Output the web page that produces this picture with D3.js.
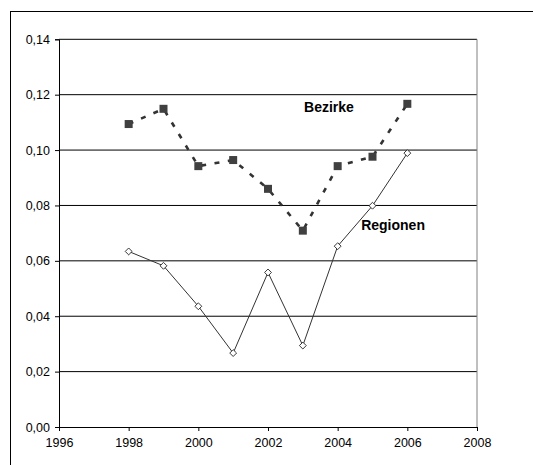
<!DOCTYPE html>
<html><head><meta charset="utf-8">
<script src="https://cdn.jsdelivr.net/npm/d3@7"></script>
<style>body{margin:0;background:#fff}svg{display:block}</style>
</head><body>
<script>
const years = [1998,1999,2000,2001,2002,2003,2004,2005,2006];
const bezirke = [0.1094,0.1149,0.0942,0.0964,0.0860,0.0709,0.0942,0.0976,0.1167];
const regionen = [0.0634,0.0582,0.0436,0.0267,0.0558,0.0294,0.0653,0.0799,0.0989];
const xTicks = [1996,1998,2000,2002,2004,2006,2008];
const yTicks = [0,0.02,0.04,0.06,0.08,0.10,0.12,0.14];
const seriesLabels = [{name:"Bezirke", year:2003.75, value:0.1137},{name:"Regionen", year:2005.59, value:0.0711}];

const W=533,H=465;
const svg=d3.select("body").append("svg").attr("width",W).attr("height",H);
svg.append("rect").attr("x",10.5).attr("y",11.5).attr("width",700).attr("height",700)
  .attr("fill","none").attr("stroke","#000").attr("stroke-width",1);

const L=59,R=477,T=39.3,B=427;
const x=d3.scaleLinear().domain([1996,2008]).range([L,R]);
const y=d3.scaleLinear().domain([0,0.14]).range([B,T]);
const font="Liberation Sans, Arial, sans-serif";

// gridlines
svg.append("g").selectAll("line").data(yTicks.filter(d=>d>0)).join("line")
  .attr("x1",L).attr("x2",R).attr("y1",d=>y(d)).attr("y2",d=>y(d))
  .attr("stroke","#000").attr("stroke-width",1);
// right border
svg.append("line").attr("x1",R).attr("x2",R).attr("y1",T).attr("y2",B).attr("stroke","#808080");

// axes
const fmt=d=>d3.format(".2f")(d).replace(".",",");
const yAxis=svg.append("g").attr("transform",`translate(${L},0)`)
  .call(d3.axisLeft(y).tickValues(yTicks).tickFormat(fmt).tickSize(4).tickPadding(5));
const xAxis=svg.append("g").attr("transform",`translate(0,${B})`)
  .call(d3.axisBottom(x).tickValues(xTicks).tickFormat(d3.format("d")).tickSize(4).tickPadding(7));
[xAxis,yAxis].forEach(a=>{
  a.selectAll("path").attr("stroke","#000").attr("stroke-width",1);
  a.selectAll("line").attr("stroke","#000");
  a.selectAll("text").attr("font-family",font).attr("font-size",12.5).attr("fill","#000");
});

// Bezirke
const bz=years.map((yr,i)=>[yr,bezirke[i]]);
const rg=years.map((yr,i)=>[yr,regionen[i]]);
const line=d3.line().x(d=>x(d[0])).y(d=>y(d[1]));
svg.append("path").datum(bz).attr("d",line).attr("fill","none")
  .attr("stroke","#333").attr("stroke-width",2.6).attr("stroke-dasharray","5,8.5");
svg.append("g").selectAll("rect").data(bz).join("rect")
  .attr("x",d=>x(d[0])-4).attr("y",d=>y(d[1])-4).attr("width",8).attr("height",8)
  .attr("fill","#404040");

// Regionen
svg.append("path").datum(rg).attr("d",line).attr("fill","none")
  .attr("stroke","#333").attr("stroke-width",1);
svg.append("g").selectAll("path").data(rg).join("path")
  .attr("d",d3.symbol(d3.symbolDiamond2 || d3.symbolDiamond,30))
  .attr("transform",d=>`translate(${x(d[0])},${y(d[1])})`)
  .attr("fill","#fff").attr("stroke","#222").attr("stroke-width",0.9);

// labels
svg.append("g").selectAll("text").data(seriesLabels).join("text")
  .attr("x",d=>x(d.year)).attr("y",d=>y(d.value)).attr("text-anchor","middle")
  .attr("font-family",font).attr("font-weight","bold").attr("font-size",14)
  .text(d=>d.name);
</script>
</body></html>
